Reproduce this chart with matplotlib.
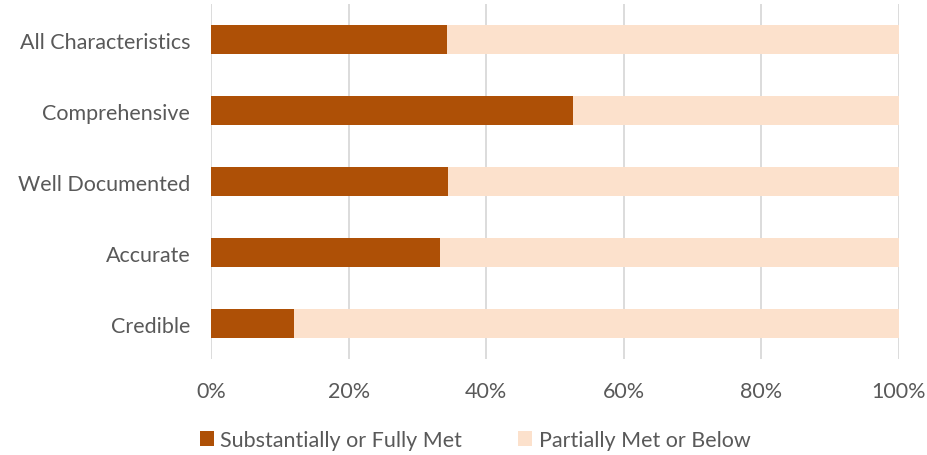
import matplotlib.pyplot as plt
import numpy as np

categories = ['All Characteristics', 'Comprehensive', 'Well Documented', 'Accurate', 'Credible']
met = [34.3, 52.6, 34.5, 33.3, 12.0]
below = [100 - v for v in met]
series_names = ['Substantially or Fully Met', 'Partially Met or Below']
tick_labels = ['0%', '20%', '40%', '60%', '80%', '100%']

plt.rcParams['font.family'] = ['Lato', 'DejaVu Sans']

fig = plt.figure(figsize=(9.28, 4.56), dpi=100)
ax = fig.add_axes([0.2274, 0.2105, 0.7414, 0.7785])

y = np.arange(len(categories))
ax.barh(y, met, height=0.4, color='#AE5006', label=series_names[0], zorder=3)
ax.barh(y, below, left=met, height=0.4, color='#FCE1CC', label=series_names[1], zorder=3)

ax.set_ylim(len(categories) - 0.5, -0.5)
ax.set_xlim(0, 100)
ax.set_xticks(np.arange(0, 101, 20))
ax.set_xticklabels(tick_labels)
ax.set_yticks(y)
ax.set_yticklabels(categories)

ax.grid(axis='x', color='#D9D9D9', linewidth=1.3, zorder=0)
for s in ax.spines.values():
    s.set_visible(False)
ax.tick_params(length=0, colors='#595959', labelsize=15.5)
ax.tick_params(axis='x', pad=16)
ax.tick_params(axis='y', pad=15)

fig.legend(*ax.get_legend_handles_labels(), loc='center', bbox_to_anchor=(0.512, 0.032),
           ncol=2, frameon=False, fontsize=15.5, labelcolor='#595959',
           handlelength=0.65, handleheight=0.7, columnspacing=2.6, handletextpad=0.3)

fig.savefig('out.png', dpi=100)
